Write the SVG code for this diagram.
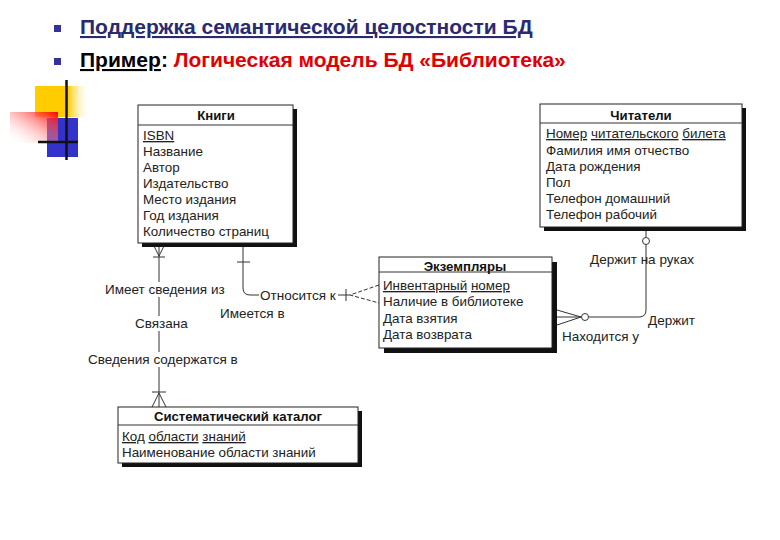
<svg xmlns="http://www.w3.org/2000/svg" width="780" height="540" viewBox="0 0 780 540">
<style>
.t{font-family:"Liberation Sans",Arial,sans-serif;font-size:13.4px;fill:#222}
.h{font-family:"Liberation Sans",Arial,sans-serif;font-size:13.2px;font-weight:bold;fill:#111;text-anchor:middle}
.u{text-decoration:underline}
.box{fill:#fff;stroke:#222;stroke-width:1}
.sh{fill:#111}
.ln{fill:none;stroke:#333;stroke-width:1}
.lb{font-family:"Liberation Sans",Arial,sans-serif;font-size:13.5px;fill:#222}
.ti{font-family:"Liberation Sans",Arial,sans-serif;font-size:21px;font-weight:bold}
</style>
<defs>
<linearGradient id="gy" x1="0" y1="0" x2="1" y2="0">
<stop offset="0" stop-color="#ffcc00"/><stop offset="0.6" stop-color="#ffcc00"/><stop offset="1" stop-color="#fff" stop-opacity="0"/>
</linearGradient>
<linearGradient id="gr" x1="1" y1="0" x2="0" y2="1">
<stop offset="0" stop-color="#ff0000"/><stop offset="1" stop-color="#fff" stop-opacity="0"/>
</linearGradient>
</defs>
<rect width="780" height="540" fill="#fff"/>

<g id="decor">
<rect x="35" y="86" width="55" height="31" fill="url(#gy)"/>
<rect x="47" y="118" width="31" height="39" fill="#3333cc"/>
<rect x="10" y="112" width="48" height="31" fill="url(#gr)"/>
<line x1="66.5" y1="80" x2="66.5" y2="160" stroke="#111" stroke-width="2.5"/>
<line x1="38" y1="142" x2="78" y2="142" stroke="#111" stroke-width="2.5"/>
</g>

<g id="title">
<rect x="54" y="25" width="7" height="7" fill="#333399"/>
<text x="80" y="34" class="ti u" fill="#2a2a70">Поддержка семантической целостности БД</text>
<rect x="54" y="58" width="7" height="7" fill="#333399"/>
<text x="80" y="67" class="ti" fill="#000"><tspan class="u">Пример</tspan>: <tspan fill="#e00000">Логическая модель БД «Библиотека»</tspan></text>
</g>

<g id="connectors">
<!-- Книги - Систематический каталог -->
<line class="ln" x1="159" y1="244" x2="159" y2="407"/>
<path class="ln" d="M153,244 L159,256 L165,244 M153,257 H165"/>
<path class="ln" d="M152,407 L159,393 L166,407 M152,392 H166"/>
<rect x="103" y="282" width="124" height="15" fill="#fff"/>
<rect x="133" y="316" width="54" height="15" fill="#fff"/>
<rect x="86" y="352" width="154" height="15" fill="#fff"/>
<text class="lb" x="105" y="294">Имеет сведения из</text>
<text class="lb" x="135" y="328">Связана</text>
<text class="lb" x="88" y="364">Сведения содержатся в</text>
<!-- Книги - Экземпляры -->
<path class="ln" d="M243,244 V288 Q243,295 250,295 H259"/>
<line class="ln" x1="237" y1="262" x2="250" y2="262"/>
<text class="lb" x="260" y="300">Относится к</text>
<path class="ln" d="M338,295 H350 M346,289 V301"/>
<path class="ln" d="M379,285 L350,295 L379,303" stroke-dasharray="4,2"/>
<text class="lb" x="220" y="318">Имеется в</text>
<!-- Экземпляры - Читатели -->
<path class="ln" d="M557,310 L581,317 L557,325 M557,317 H581"/>
<circle cx="585" cy="317" r="3.5" fill="#fff" stroke="#333"/>
<path class="ln" d="M589,317 H639 Q646,317 646,310 V245"/>
<circle cx="646" cy="241" r="3.5" fill="#fff" stroke="#333"/>
<line class="ln" x1="646" y1="237" x2="646" y2="228"/>
<text class="lb" x="590" y="264">Держит на руках</text>
<text class="lb" x="648" y="325">Держит</text>
<text class="lb" x="562" y="341">Находится у</text>
</g>

<g id="knigi">
<rect class="sh" x="142" y="109" width="155" height="138"/>
<rect class="box" x="138" y="105" width="155" height="138"/>
<line class="ln" x1="138" y1="125" x2="293" y2="125"/>
<text class="h" x="216" y="120">Книги</text>
<text class="t u" x="143" y="140">ISBN</text>
<text class="t" x="143" y="156">Название</text>
<text class="t" x="143" y="172">Автор</text>
<text class="t" x="143" y="188">Издательство</text>
<text class="t" x="143" y="204">Место издания</text>
<text class="t" x="143" y="220">Год издания</text>
<text class="t" x="143" y="236">Количество страниц</text>
</g>

<g id="chitateli">
<rect class="sh" x="544" y="108" width="202" height="123"/>
<rect class="box" x="540" y="104" width="202" height="123"/>
<line class="ln" x1="540" y1="123" x2="742" y2="123"/>
<text class="h" x="641" y="120">Читатели</text>
<text class="t" x="546" y="138"><tspan class="u">Номер</tspan> <tspan class="u">читательского</tspan> <tspan class="u">билета</tspan></text>
<text class="t" x="546" y="155">Фамилия имя отчество</text>
<text class="t" x="546" y="171">Дата рождения</text>
<text class="t" x="546" y="187">Пол</text>
<text class="t" x="546" y="203">Телефон домашний</text>
<text class="t" x="546" y="219">Телефон рабочий</text>
</g>

<g id="ekzemplyary">
<rect class="sh" x="384" y="262" width="173" height="91"/>
<rect class="box" x="379" y="257" width="173" height="91"/>
<line class="ln" x1="379" y1="272" x2="552" y2="272"/>
<text class="h" x="465" y="271">Экземпляры</text>
<text class="t" x="383" y="290"><tspan class="u">Инвентарный</tspan>  <tspan class="u">номер</tspan></text>
<text class="t" x="383" y="306">Наличие в библиотеке</text>
<text class="t" x="383" y="323">Дата взятия</text>
<text class="t" x="383" y="339">Дата возврата</text>
</g>

<g id="katalog">
<rect class="sh" x="122" y="411" width="240" height="56"/>
<rect class="box" x="118" y="407" width="240" height="56"/>
<line class="ln" x1="118" y1="425" x2="358" y2="425"/>
<text class="h" x="238" y="421">Систематический каталог</text>
<text class="t" x="122" y="441"><tspan class="u">Код</tspan> <tspan class="u">области</tspan> <tspan class="u">знаний</tspan></text>
<text class="t" x="122" y="457">Наименование области знаний</text>
</g>
</svg>
